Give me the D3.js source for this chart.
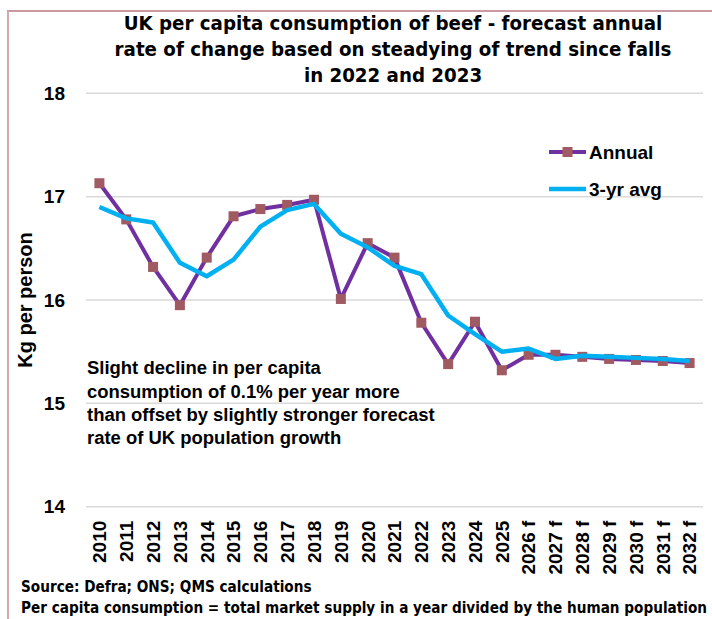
<!DOCTYPE html>
<html>
<head>
<meta charset="utf-8">
<script src="https://cdn.jsdelivr.net/npm/d3@7"></script>
<style>
  body { margin: 0; background: #fff; }
  svg { display: block; }
  .narrow { font-family: "Liberation Sans Narrow", "DejaVu Sans Condensed", "Roboto", sans-serif; font-weight: bold; }
  .bold { font-family: "Liberation Sans", Arial, sans-serif; font-weight: bold; }
</style>
</head>
<body>
<div id="chart"></div>
<script>
// chart data
const years = ['2010', '2011', '2012', '2013', '2014', '2015', '2016', '2017', '2018', '2019', '2020',
  '2021', '2022', '2023', '2024', '2025', '2026 f', '2027 f', '2028 f', '2029 f', '2030 f', '2031 f', '2032 f'];
const annual = [17.13, 16.78, 16.32, 15.95, 16.41, 16.81, 16.88, 16.92, 16.97, 16.01, 16.55,
  16.41, 15.78, 15.38, 15.79, 15.32, 15.47, 15.47, 15.45, 15.43, 15.42, 15.41, 15.39];
const avg3 = [16.90, 16.79, 16.75, 16.36, 16.23, 16.39, 16.71, 16.87, 16.93, 16.64, 16.51,
  16.33, 16.25, 15.85, 15.67, 15.50, 15.53, 15.43, 15.46, 15.45, 15.44, 15.43, 15.41];
const yTicks = [14, 15, 16, 17, 18];
const titleLines = ['UK per capita consumption of beef - forecast annual',
  'rate of change based on steadying of trend since falls', 'in 2022 and 2023'];
const noteLines = ['Slight decline in per capita', 'consumption of 0.1% per year more',
  'than offset by slightly stronger forecast', 'rate of UK population growth'];
const sourceLines = ['Source: Defra; ONS; QMS calculations',
  'Per capita consumption = total market supply in a year divided by the human population'];

const W = 712, H = 619;
const svg = d3.select('#chart').append('svg').attr('width', W).attr('height', H);

// outer frame (only top + left edges visible)
svg.append('line').attr('x1', 7).attr('x2', W).attr('y1', 11).attr('y2', 11)
  .attr('stroke', '#b87883').attr('stroke-width', 1.5);
svg.append('line').attr('x1', 8).attr('x2', 8).attr('y1', 11).attr('y2', H)
  .attr('stroke', '#d2a9b0').attr('stroke-width', 2);

const x = d3.scaleBand().domain(years).range([86, 703]);
const y = d3.scaleLinear().domain([14, 18]).range([506.7, 93.3]);
const cx = d => x(d) + x.bandwidth() / 2;

// size a block of lines so that one reference line spans the target width
function fitBlock(sel, base, refIndex, target) {
  sel.style('font-size', base + 'px');
  const w = sel.nodes()[refIndex].getComputedTextLength();
  sel.style('font-size', (base * target / w) + 'px');
}

// gridlines
svg.append('g').selectAll('line').data(yTicks).join('line')
  .attr('x1', 86).attr('x2', 703)
  .attr('y1', d => y(d)).attr('y2', d => y(d))
  .attr('stroke', '#d9d9d9').attr('stroke-width', 1.5);

// axes
const yAxis = svg.append('g').attr('transform', 'translate(86,0)')
  .call(d3.axisLeft(y).tickValues(yTicks).tickFormat(d3.format('d')).tickSize(0).tickPadding(21));
yAxis.select('.domain').remove();
yAxis.selectAll('text').attr('class', 'bold').style('font-size', '19px').attr('fill', '#000');

const xAxis = svg.append('g').attr('transform', `translate(0,${y(14)})`)
  .call(d3.axisBottom(x).tickSize(0));
xAxis.select('.domain').remove();
xAxis.selectAll('text').attr('class', 'bold').style('font-size', '19px').attr('fill', '#000')
  .attr('transform', 'rotate(-90)').attr('x', -14).attr('y', 0).attr('dy', '0.36em')
  .style('text-anchor', 'end');

svg.append('text').attr('class', 'bold').style('font-size', '20px')
  .attr('transform', 'translate(32,300) rotate(-90)').attr('text-anchor', 'middle')
  .text('Kg per person');

// series
const line = d3.line().x((d, i) => cx(years[i])).y(d => y(d));
svg.append('path').datum(annual).attr('d', line)
  .attr('fill', 'none').attr('stroke', '#7030a0').attr('stroke-width', 4).attr('stroke-linejoin', 'round');
svg.append('g').selectAll('rect').data(annual).join('rect')
  .attr('x', (d, i) => cx(years[i]) - 5).attr('y', d => y(d) - 5)
  .attr('width', 10).attr('height', 10).attr('fill', '#a05a62');
svg.append('path').datum(avg3).attr('d', line)
  .attr('fill', 'none').attr('stroke', '#00b0f0').attr('stroke-width', 4.5).attr('stroke-linejoin', 'round');

// legend
const legend = svg.append('g');
legend.append('line').attr('x1', 549).attr('x2', 586).attr('y1', 152).attr('y2', 152)
  .attr('stroke', '#7030a0').attr('stroke-width', 4);
legend.append('rect').attr('x', 562.5).attr('y', 147).attr('width', 10).attr('height', 10).attr('fill', '#a05a62');
legend.append('text').attr('class', 'bold').style('font-size', '19px')
  .attr('x', 589).attr('y', 159).text('Annual');
legend.append('line').attr('x1', 549).attr('x2', 586).attr('y1', 189).attr('y2', 189)
  .attr('stroke', '#00b0f0').attr('stroke-width', 4.5);
legend.append('text').attr('class', 'bold').style('font-size', '19px')
  .attr('x', 589).attr('y', 196).text('3-yr avg');

// title
const titleY = [30, 56, 82];
const title = svg.append('g').selectAll('text').data(titleLines).join('text')
  .attr('class', 'narrow').attr('x', 393).attr('y', (d, i) => titleY[i])
  .attr('text-anchor', 'middle').text(d => d);
fitBlock(title, 20, 0, 539);

// annotation
const noteY = [374, 398, 421, 444];
const note = svg.append('g').selectAll('text').data(noteLines).join('text')
  .attr('class', 'bold').attr('x', 87).attr('y', (d, i) => noteY[i]).text(d => d);
fitBlock(note, 18, 1, 313);

// source notes
const srcY = [592, 613];
const src = svg.append('g').selectAll('text').data(sourceLines).join('text')
  .attr('class', 'narrow').attr('x', 21).attr('y', (d, i) => srcY[i]).text(d => d);
fitBlock(src, 15, 1, 687);
</script>
</body>
</html>
